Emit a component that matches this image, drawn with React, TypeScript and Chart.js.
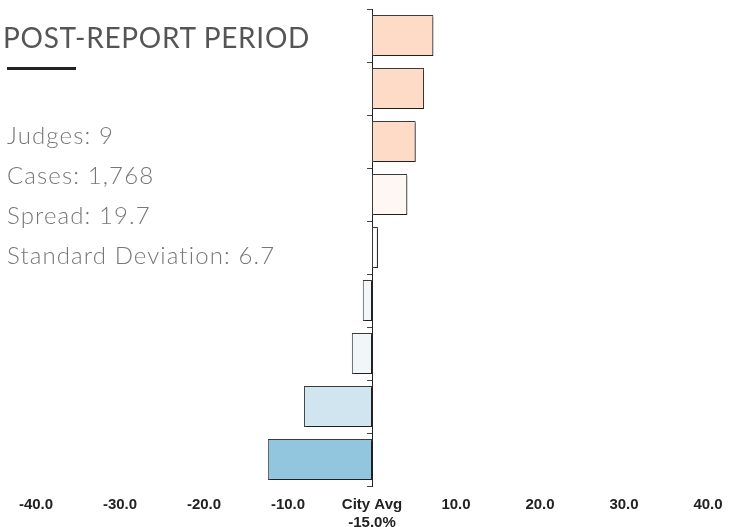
import React, { useEffect, useRef } from "react";
import { Chart, registerables } from "chart.js";

Chart.register(...registerables);

const judges = ["J1", "J2", "J3", "J4", "J5", "J6", "J7", "J8", "J9"];
const values = [7.3, 6.2, 5.2, 4.2, 0.7, -1.1, -2.4, -8.1, -12.4];
const barColors = [
  "#fddbc7",
  "#fddbc7",
  "#fddbc7",
  "#fff7f3",
  "#ffffff",
  "#f3f7fa",
  "#f1f6f9",
  "#d1e5f0",
  "#92c5de",
];
const xTicks = [-40, -30, -20, -10, 0, 10, 20, 30, 40];
const cityAvgLabel = ["City Avg", "-15.0%"];
const title = "POST-REPORT PERIOD";
const stats = ["Judges: 9", "Cases: 1,768", "Spread: 19.7", "Standard Deviation: 6.7"];

const shadowPlugin = {
  id: "barShadow",
  beforeDatasetsDraw(chart: any) {
    const ctx = chart.ctx;
    ctx.save();
    ctx.shadowColor = "rgba(0,0,0,0.45)";
    ctx.shadowOffsetX = 1.5;
    ctx.shadowOffsetY = 1.5;
    ctx.shadowBlur = 0.5;
  },
  afterDatasetsDraw(chart: any) {
    chart.ctx.restore();
  },
};

export default function App() {
  const ref = useRef<HTMLCanvasElement>(null);
  useEffect(() => {
    document.body.style.margin = "0";
    const chart = new Chart(ref.current!, {
      type: "bar",
      data: {
        labels: judges,
        datasets: [
          {
            data: values,
            backgroundColor: barColors,
            borderColor: "#3a3a3a",
            borderWidth: 1,
            borderSkipped: false,
            barPercentage: 0.77,
            categoryPercentage: 1,
          },
        ],
      },
      options: {
        indexAxis: "y",
        animation: false,
        responsive: false,
        maintainAspectRatio: false,
        layout: { padding: { left: 36, right: 31, top: 9, bottom: 0 } },
        plugins: { legend: { display: false }, tooltip: { enabled: false } },
        scales: {
          x: {
            type: "linear",
            min: -40,
            max: 40,
            afterBuildTicks: (scale: any) => {
              scale.ticks = xTicks.map((v) => ({ value: v }));
            },
            grid: { display: false, drawTicks: false },
            border: { display: false },
            ticks: {
              padding: 9.5,
              color: "#222",
              font: {
                family: "'Liberation Sans', Arial, sans-serif",
                size: 15,
                weight: "bold",
                lineHeight: 1.2,
              },
              maxRotation: 0,
              autoSkip: false,
              callback: (v: any) => (Number(v) === 0 ? cityAvgLabel : Number(v).toFixed(1)),
            },
          },
          y: {
            position: { x: 0 } as any,
            ticks: { display: false },
            grid: {
              drawOnChartArea: false,
              drawTicks: true,
              tickLength: 5,
              color: "#444",
              offset: true,
            },
            border: { display: true, color: "#222", width: 1 },
          },
        },
      },
      plugins: [shadowPlugin],
    });
    return () => chart.destroy();
  }, []);

  return (
    <div
      style={{
        position: "fixed",
        left: 0,
        top: 0,
        width: 739,
        height: 527,
        background: "#fff",
        overflow: "hidden",
      }}
    >
      <canvas ref={ref} width={739} height={541} style={{ position: "absolute", left: 0, top: 0 }} />
      <div
        style={{
          position: "absolute",
          left: 3,
          top: 23,
          fontFamily: "Lato, sans-serif",
          fontSize: 28,
          lineHeight: "28px",
          letterSpacing: "0.7px",
          color: "#555",
          whiteSpace: "nowrap",
        }}
      >
        {title}
      </div>
      <div style={{ position: "absolute", left: 7, top: 67, width: 69, height: 3, background: "#222" }} />
      <div
        style={{
          position: "absolute",
          left: 7,
          top: 115,
          fontFamily: "Lato, sans-serif",
          fontWeight: 300,
          fontSize: 24,
          lineHeight: "40px",
          letterSpacing: "1.1px",
          color: "#777",
          whiteSpace: "nowrap",
        }}
      >
        {stats.map((s) => (
          <div key={s}>{s}</div>
        ))}
      </div>
    </div>
  );
}
